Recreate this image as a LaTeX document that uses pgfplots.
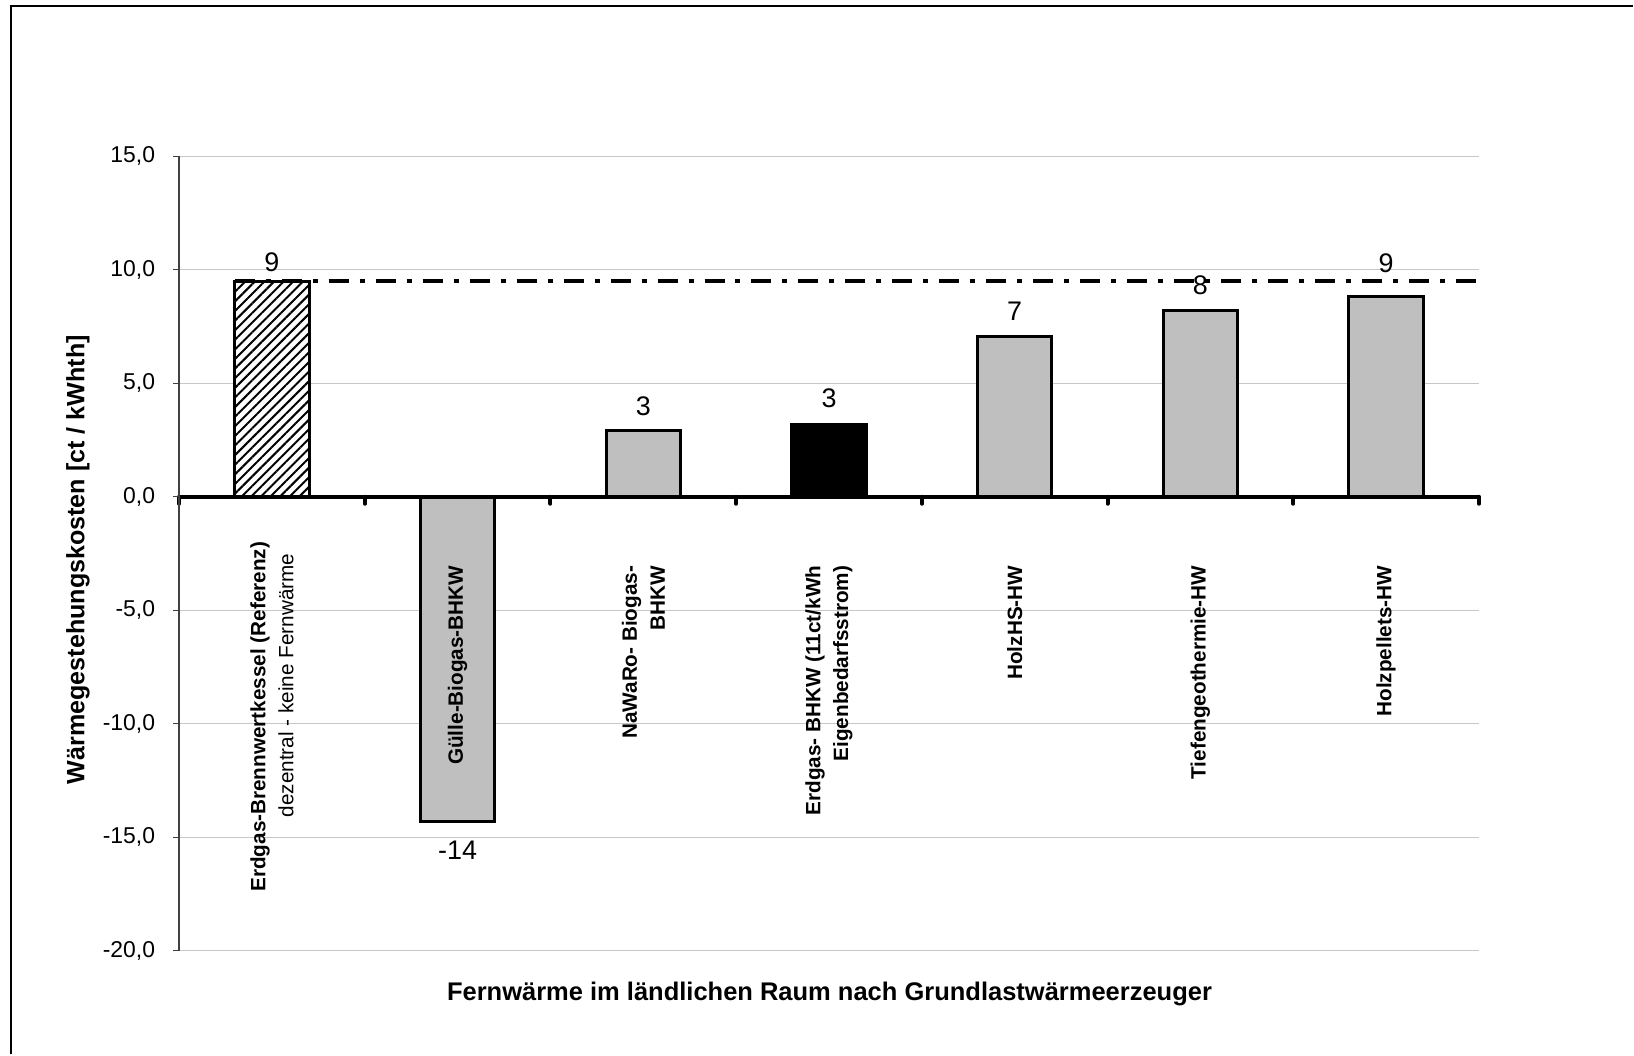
\documentclass[border=0pt]{standalone}
\usepackage{pgfplots}
\pgfplotsset{compat=1.18}
\usepackage{fontspec}
\setmainfont{Liberation Sans}
\usetikzlibrary{patterns.meta}
\pgfplotsset{
  layers/mylayers/.define layer set={
    axis background,axis grid,main,axis ticks,axis lines,axis tick labels,axis descriptions,axis foreground
  }{/pgfplots/layers/standard},
  lbl/.style={every node near coord/.append style={anchor=south, yshift=#1, font=\fontsize{13.5}{16}\selectfont}},
}
\begin{document}
\begin{tikzpicture}
\path (0,0) rectangle (817bp,527.5bp);
\draw[line width=1bp] (5.5bp,0) -- (5.5bp,524.5bp) -- (817bp,524.5bp);
\begin{axis}[
  set layers=mylayers,
  at={(89.6bp,51.8bp)}, anchor=south west,
  width=650.3bp, height=397.55bp, scale only axis,
  xmin=-0.5, xmax=6.5, ymin=-20, ymax=15,
  axis x line*=middle, axis y line*=left,
  hide obscured x ticks=false, hide obscured y ticks=false,
  x axis line style={line width=2bp, black},
  y axis line style={line width=0.6bp, black!75},
  ytick={-20,-15,...,15},
  ymajorgrids, major grid style={line width=0.5bp, draw=black!22},
  tick align=outside,
  major tick length=3bp, minor tick length=3.5bp,
  ytick style={line width=0.6bp, black!75},
  xtick={0,...,6},
  minor xtick={-0.5,0.5,...,6.5},
  major x tick style={draw=none},
  minor x tick style={line width=2bp, black, line cap=round},
  xticklabels={
    {\textbf{Erdgas-Brennwertkessel (Referenz)}\hspace*{-12bp}\\\mdseries dezentral - keine Fernwärme\hspace*{-6bp}},
    {Gülle-Biogas-BHKW},
    {NaWaRo- Biogas-\\BHKW},
    {Erdgas- BHKW (11ct/kWh\\Eigenbedarfsstrom)},
    {HolzHS-HW},
    {Tiefengeothermie-HW},
    {Holzpellets-HW}},
  xticklabel style={rotate=90, anchor=east, align=right, font=\fontsize{10.4}{14}\selectfont\bfseries},
  xticklabel shift=28bp,
  yticklabel style={font=\fontsize{11.5}{13}\selectfont},
  yticklabel shift=5.5bp,
  /pgf/number format/.cd, fixed, fixed zerofill, precision=1, use comma, assume math mode=true,
]
\addplot[ybar, bar width=0.4, bar shift=0pt, line width=1.5bp, draw=black, fill=white,
  postaction={pattern={Lines[angle=45, distance=3.4bp, line width=1bp]}},
  nodes near coords={9}, lbl=0.5bp]
  coordinates {(0,9.5)};
\addplot[ybar, bar width=0.4, bar shift=0pt, line width=1.5bp, draw=black, fill=black!25,
  nodes near coords={-14}, every node near coord/.append style={anchor=north, yshift=-5.9bp, font=\fontsize{13.5}{16}\selectfont}]
  coordinates {(1,-14.3)};
\addplot[ybar, bar width=0.4, bar shift=0pt, line width=1.5bp, draw=black, fill=black!25,
  nodes near coords={3}, lbl=3.4bp]
  coordinates {(2,2.9)};
\addplot[ybar, bar width=0.4, bar shift=0pt, line width=1.5bp, draw=black, fill=black,
  nodes near coords={3}, lbl=4.2bp]
  coordinates {(3,3.2)};
\addplot[ybar, bar width=0.4, bar shift=0pt, line width=1.5bp, draw=black, fill=black!25,
  nodes near coords={7}, lbl=3.9bp]
  coordinates {(4,7.07)};
\addplot[ybar, bar width=0.4, bar shift=0pt, line width=1.5bp, draw=black, fill=black!25,
  nodes near coords={8}, lbl=4bp]
  coordinates {(5,8.2)};
\addplot[ybar, bar width=0.4, bar shift=0pt, line width=1.5bp, draw=black, fill=black!25,
  nodes near coords={9}, lbl=8.2bp]
  coordinates {(6,8.8)};
\addplot[line width=1.6bp, black, dash pattern=on 10bp off 5.5bp on 2.5bp off 5.5bp]
  coordinates {(-0.2,9.5) (6.5,9.5)};
\end{axis}
\node[rotate=90, font=\fontsize{12.6}{15}\selectfont\bfseries] at (39bp,247.5bp) {Wärmegestehungskosten [ct / kWhth]};
\node[font=\fontsize{12.8}{15}\selectfont\bfseries] at (415bp,30bp) {Fernwärme im ländlichen Raum nach Grundlastwärmeerzeuger};
\end{tikzpicture}
\end{document}
